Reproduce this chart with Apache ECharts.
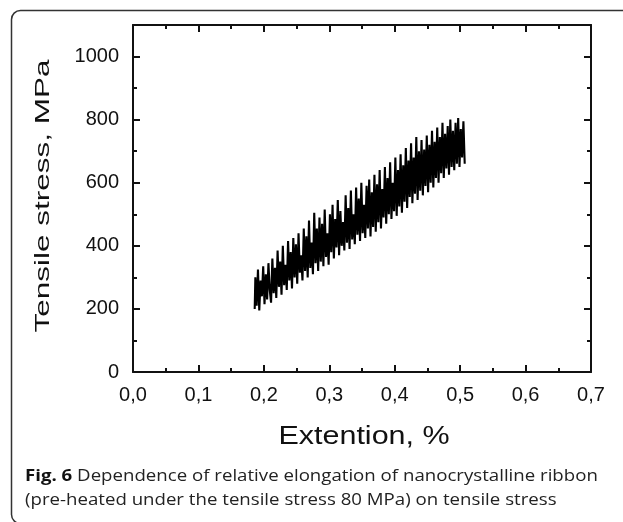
<!DOCTYPE html>
<html>
<head>
<meta charset="utf-8">
<script src="https://cdn.jsdelivr.net/npm/echarts@6/dist/echarts.min.js"></script>
<style>
html,body{margin:0;padding:0;background:#fff;}
#chart{width:623px;height:522px;}
</style>
</head>
<body>
<div id="chart"></div>
<script>
// Extension (%) values along the trace
const extension = [
0.186,0.188,0.190,0.192,0.194,0.196,0.198,0.200,0.202,0.204,
0.206,0.208,0.210,0.212,0.214,0.216,0.218,0.220,0.222,0.224,
0.226,0.228,0.230,0.232,0.234,0.236,0.238,0.240,0.242,0.244,
0.246,0.248,0.250,0.252,0.254,0.256,0.258,0.260,0.262,0.264,
0.266,0.268,0.270,0.272,0.274,0.276,0.278,0.280,0.282,0.284,
0.286,0.288,0.290,0.292,0.294,0.296,0.298,0.300,0.302,0.304,
0.306,0.308,0.310,0.312,0.314,0.316,0.318,0.320,0.322,0.324,
0.326,0.328,0.330,0.332,0.334,0.336,0.338,0.340,0.342,0.344,
0.346,0.348,0.350,0.352,0.354,0.356,0.358,0.360,0.362,0.364,
0.366,0.368,0.370,0.372,0.374,0.376,0.378,0.380,0.382,0.384,
0.386,0.388,0.390,0.392,0.394,0.396,0.398,0.400,0.402,0.404,
0.406,0.408,0.410,0.412,0.414,0.416,0.418,0.420,0.422,0.424,
0.426,0.428,0.430,0.432,0.434,0.436,0.438,0.440,0.442,0.444,
0.446,0.448,0.450,0.452,0.454,0.456,0.458,0.460,0.462,0.464,
0.466,0.468,0.470,0.472,0.474,0.476,0.478,0.480,0.482,0.484,
0.486,0.488,0.490,0.492,0.494,0.496,0.498,0.500,0.502,0.504,
0.506,0.508
];
// Tensile stress (MPa) values along the trace
const stress = [
200,300,210,325,195,290,240,335,215,310,
230,345,260,220,360,250,330,235,385,270,
350,245,400,275,340,260,415,290,380,265,
425,300,405,280,440,315,370,290,455,320,
430,300,480,330,410,310,505,345,455,320,
490,350,470,335,515,365,440,340,500,380,
530,360,485,395,545,370,510,400,475,385,
560,410,520,390,575,420,500,405,585,435,
550,415,600,440,530,425,590,455,610,430,
570,460,625,445,595,475,640,455,580,490,
650,470,615,500,665,485,600,510,680,495,
640,525,690,505,655,540,710,520,670,555,
725,535,680,565,745,545,700,575,735,560,
705,590,750,570,720,600,765,585,730,615,
775,600,745,630,790,615,755,645,780,625,
800,650,765,640,790,660,805,650,770,680,
795,660
];
const xTicks = ['0,0','0,1','0,2','0,3','0,4','0,5','0,6','0,7'];
const yTickValues = [0,200,400,600,800,1000];
const xName = 'Extention, %';
const yName = 'Tensile stress, MPa';
const captionBold = 'Fig. 6';
const captionLine1 = ' Dependence of relative elongation of nanocrystalline ribbon';
const captionLine2 = '(pre-heated under the tensile stress 80 MPa) on tensile stress';

const seriesData = extension.map((x, i) => [x, stress[i]]);

const black = '#111';
const axisFont = 'Liberation Sans';

function xAxisCfg(pos, labels) {
  return {
    type: 'value', position: pos, min: 0, max: 0.7, interval: 0.1,
    axisLine: {show: true, onZero: false, lineStyle: {color: black, width: 2}},
    axisTick: {show: true, inside: true, length: 7, lineStyle: {color: black, width: 2}},
    minorTick: {show: true, splitNumber: 2, length: 4, lineStyle: {color: black, width: 2}},
    splitLine: {show: false}, minorSplitLine: {show: false},
    axisLabel: {
      show: labels, margin: 13, fontSize: 20, fontFamily: axisFont, color: black,
      formatter: v => xTicks[Math.round(v * 10)]
    }
  };
}
function yAxisCfg(pos, interval, len, labels, line) {
  return {
    type: 'value', position: pos, min: 0, max: 1100, interval: interval,
    axisLine: {show: line, onZero: false, lineStyle: {color: black, width: 2}},
    axisTick: {show: true, inside: true, length: len, lineStyle: {color: black, width: 2}},
    splitLine: {show: false},
    axisLabel: {
      show: labels, margin: 14, fontSize: 20, fontFamily: axisFont, color: black,
      showMaxLabel: false,
      formatter: v => (yTickValues.indexOf(v) >= 0 ? String(v) : '')
    }
  };
}

const chart = echarts.init(document.getElementById('chart'), null, {renderer: 'canvas'});
chart.setOption({
  animation: false,
  backgroundColor: '#fff',
  grid: {left: 133, top: 25, width: 458, height: 347, containLabel: false},
  xAxis: [xAxisCfg('bottom', true), xAxisCfg('top', false)],
  yAxis: [
    yAxisCfg('left', 200, 7, true, true),
    yAxisCfg('left', 100, 4, false, false),
    yAxisCfg('right', 200, 7, false, true),
    yAxisCfg('right', 100, 4, false, false)
  ],
  series: [{
    type: 'line', xAxisIndex: 0, yAxisIndex: 0, data: seriesData,
    showSymbol: false, symbol: 'none', step: 'middle',
    lineStyle: {color: '#000', width: 2.1, join: 'miter', cap: 'butt'},
    silent: true
  }],
  graphic: [
    {
      type: 'rect', left: 9, top: 8, silent: true,
      shape: {width: 700, height: 513, r: 9},
      style: {fill: 'none', stroke: '#333', lineWidth: 1.5}
    },
    {
      type: 'text', x: 364, y: 437, scaleX: 1.22, silent: true,
      style: {
        text: xName, font: '25px "Liberation Sans"', fill: black,
        align: 'center', verticalAlign: 'middle'
      }
    },
    {
      type: 'text', x: 43, y: 196, rotation: Math.PI / 2, scaleX: 1.5, silent: true,
      style: {
        text: yName, font: '21px "Liberation Sans"', fill: black,
        align: 'center', verticalAlign: 'middle'
      }
    },
    {
      type: 'text', x: 25, y: 464, scaleX: 1.13, silent: true,
      style: {
        text: '{b|' + captionBold + '}' + captionLine1 + '\n' + captionLine2,
        font: '16.5px "Open Sans"', fill: '#222', lineHeight: 24.5,
        rich: {b: {fontFamily: 'Open Sans', fontWeight: 'bold', fontSize: 16.5, fill: '#111', lineHeight: 24.5}}
      }
    }
  ]
});
</script>
</body>
</html>
